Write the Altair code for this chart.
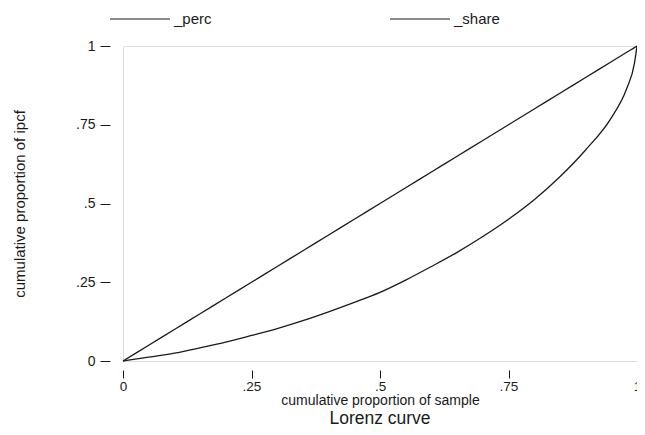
import altair as alt
import pandas as pd

# cumulative proportion of sample
p = [0.0, 0.05, 0.10, 0.15, 0.20, 0.25, 0.30, 0.35, 0.40, 0.45, 0.50, 0.55,
     0.60, 0.65, 0.70, 0.75, 0.80, 0.85, 0.90, 0.95, 0.98, 0.995, 1.0]
# cumulative proportion of ipcf (Lorenz curve)
share = [0.0, 0.012, 0.025, 0.042, 0.060, 0.081, 0.103, 0.128, 0.156, 0.186, 0.218, 0.257,
         0.300, 0.345, 0.395, 0.450, 0.512, 0.585, 0.670, 0.772, 0.865, 0.945, 1.0]
# line of perfect equality
perc = list(p)

ticks = [0, 0.25, 0.5, 0.75, 1]
series = ["_perc", "_share"]

rows = []
for xi, v in zip(p, perc):
    rows.append({"p": xi, "val": v, "series": series[0]})
for xi, v in zip(p, share):
    rows.append({"p": xi, "val": v, "series": series[1]})
df = pd.DataFrame(rows)

lab = "datum.value == 0 ? '0' : datum.value == 1 ? '1' : replace(format(datum.value, '.2~f'), '0.', '.')"
FONT = "Liberation Sans"
INK = "#1a1a1a"

chart = alt.Chart(df).mark_line(strokeWidth=1.3, clip=False, interpolate="monotone").encode(
    x=alt.X("p:Q", scale=alt.Scale(domain=[0, 1], nice=False, zero=False),
            axis=alt.Axis(values=ticks, labelExpr=lab, title="cumulative proportion of sample",
                          domain=False, grid=False, offset=9, tickSize=8, tickColor=INK,
                          tickWidth=1, labelPadding=1, labelFontSize=13.5, labelFont=FONT,
                          labelColor=INK, labelFlush=False, titleFont=FONT, titleFontSize=14,
                          titleFontWeight="normal", titleColor=INK, titlePadding=1)),
    y=alt.Y("val:Q", scale=alt.Scale(domain=[0, 1], nice=False, zero=False),
            axis=alt.Axis(values=ticks, labelExpr=lab, title="cumulative proportion of ipcf",
                          domain=False, grid=False, offset=13, tickSize=10, tickColor=INK,
                          tickWidth=1, labelPadding=5, labelFontSize=14, labelFont=FONT,
                          labelColor=INK, labelAngle=0, labelFlush=False, titleFont=FONT,
                          titleFontSize=15, titleFontWeight="normal", titleColor=INK,
                          titlePadding=48)),
    color=alt.Color("series:N", scale=alt.Scale(domain=series, range=[INK, INK]),
                    legend=alt.Legend(title=None, orient="none", legendX=-14, legendY=-58,
                                      direction="horizontal", columns=2, columnPadding=175,
                                      symbolType="stroke", symbolSize=3600, symbolStrokeWidth=1.2,
                                      labelFont=FONT, labelFontSize=15, labelColor=INK,
                                      labelOffset=3)),
    detail="series:N",
).properties(
    width=514, height=315,
    padding={"left": 115, "top": 38, "right": 0, "bottom": 66},
    autosize=alt.AutoSizeParams(type="none"),
    title=alt.TitleParams("Lorenz curve", orient="bottom", fontSize=17.5, font=FONT,
                          fontWeight="normal", color=INK, offset=2),
).configure_view(stroke="#1a1a1a", strokeWidth=1.2).configure(background="white")

chart.save("out.html", embed_options={"renderer": "svg", "actions": False})
